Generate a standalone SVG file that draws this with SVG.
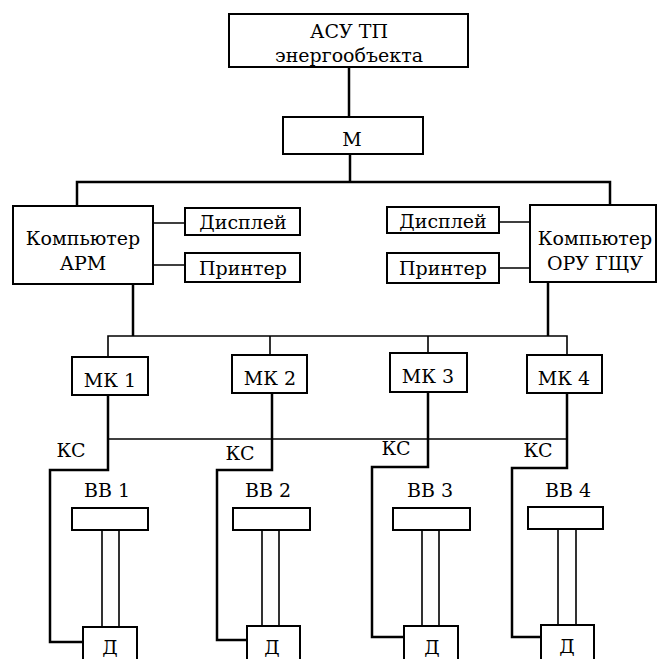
<svg xmlns="http://www.w3.org/2000/svg" width="659" height="659" viewBox="0 0 659 659">
<style>
.box{fill:#fff;stroke:#000;stroke-width:2}
.t{font-family:"DejaVu Serif","Liberation Serif",serif;font-size:19px;fill:#000;text-anchor:middle}
.c{fill:none;stroke:#000;stroke-width:2.5}
.thin{fill:none;stroke:#000;stroke-width:1.6}
</style>
<rect width="659" height="659" fill="#fff"/>
<g id="connectors">
<path class="c" d="M349 67V117"/>
<path class="c" d="M350 154V182"/>
<path class="c" d="M77 206V182H610V205"/>
<path class="thin" d="M153 223H185M153 265H185"/>
<path class="thin" d="M499 222H530M499 268H530"/>
<path class="c" d="M133 284V336"/>
<path class="c" d="M548 282V336"/>
<path class="thin" d="M108 357V336H567V355"/>
<path class="thin" d="M270 336V355M428 336V353"/>
<path class="thin" d="M108 439H567"/>
<path class="c" d="M108 395V470H50V642H83"/>
<path class="c" d="M272 393V470H217V640H247"/>
<path class="c" d="M428 392V467H372V637H404"/>
<path class="c" d="M567 393V468H512V637H541"/>
<path class="thin" d="M102 530V627M119 530V627"/>
<path class="thin" d="M262 530V626M279 530V626"/>
<path class="thin" d="M422 530V626M439 530V626"/>
<path class="thin" d="M558 529V625M576 529V625"/>
</g>
<g id="asu"><rect class="box" x="229" y="14" width="239" height="53"/><text class="t" x="349" y="38">АСУ ТП</text><text class="t" x="349" y="62">энергообъекта</text></g>
<g id="m"><rect class="box" x="283" y="117" width="140" height="37"/><text class="t" x="352" y="146">М</text></g>
<g id="comp-arm"><rect class="box" x="13" y="206" width="140" height="78"/><text class="t" x="83" y="245">Компьютер</text><text class="t" x="83" y="270">АРМ</text></g>
<g id="disp-l"><rect class="box" x="185" y="208" width="115" height="27"/><text class="t" x="243" y="229">Дисплей</text></g>
<g id="print-l"><rect class="box" x="185" y="253" width="115" height="29"/><text class="t" x="243" y="275">Принтер</text></g>
<g id="disp-r"><rect class="box" x="387" y="207" width="112" height="26"/><text class="t" x="443" y="228">Дисплей</text></g>
<g id="print-r"><rect class="box" x="387" y="253" width="112" height="30"/><text class="t" x="443" y="275">Принтер</text></g>
<g id="comp-oru"><rect class="box" x="530" y="205" width="126" height="77"/><text class="t" x="595" y="245">Компьютер</text><text class="t" x="595" y="270">ОРУ ГЩУ</text></g>
<g id="mk1"><rect class="box" x="72" y="357" width="76" height="38"/><text class="t" x="110" y="387">МК 1</text></g>
<g id="mk2"><rect class="box" x="232" y="355" width="75" height="38"/><text class="t" x="270" y="385">МК 2</text></g>
<g id="mk3"><rect class="box" x="390" y="353" width="77" height="39"/><text class="t" x="428" y="383">МК 3</text></g>
<g id="mk4"><rect class="box" x="527" y="355" width="75" height="38"/><text class="t" x="564" y="385">МК 4</text></g>
<g id="ks"><text class="t" x="71" y="457">КС</text><text class="t" x="240" y="460">КС</text><text class="t" x="396" y="455">КС</text><text class="t" x="538" y="457">КС</text></g>
<g id="bb1"><text class="t" x="107" y="497">ВВ 1</text><rect class="box" x="72" y="508" width="76" height="22"/></g>
<g id="bb2"><text class="t" x="268" y="497">ВВ 2</text><rect class="box" x="233" y="508" width="77" height="22"/></g>
<g id="bb3"><text class="t" x="430" y="497">ВВ 3</text><rect class="box" x="393" y="508" width="77" height="22"/></g>
<g id="bb4"><text class="t" x="568" y="497">ВВ 4</text><rect class="box" x="528" y="507" width="75" height="22"/></g>
<g id="d1"><rect class="box" x="83" y="627" width="54" height="40"/><text class="t" x="110" y="654">Д</text></g>
<g id="d2"><rect class="box" x="247" y="626" width="53" height="40"/><text class="t" x="272" y="654">Д</text></g>
<g id="d3"><rect class="box" x="404" y="626" width="54" height="40"/><text class="t" x="432" y="654">Д</text></g>
<g id="d4"><rect class="box" x="541" y="625" width="53" height="40"/><text class="t" x="567" y="653">Д</text></g>
</svg>
